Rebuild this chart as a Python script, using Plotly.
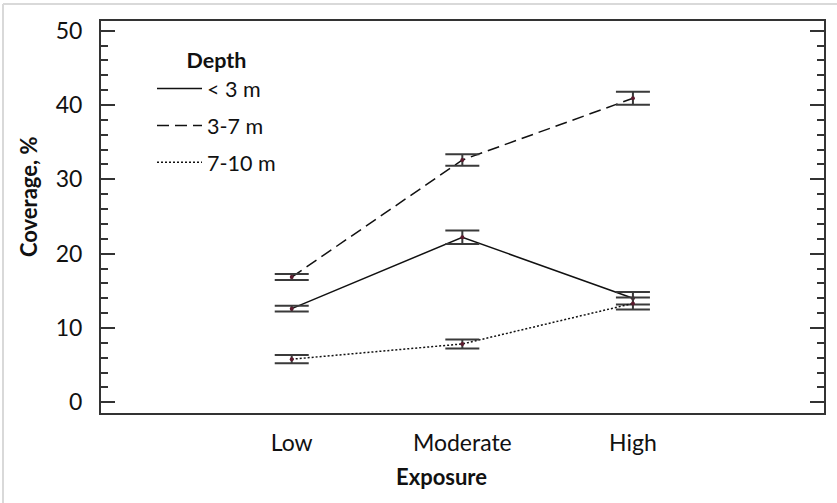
import plotly.graph_objects as go

exposure = ["Low", "Moderate", "High"]
depths = ["< 3 m", "3-7 m", "7-10 m"]
cov_lt3 = [12.6, 22.2, 14.0]
err_lt3 = [0.4, 0.9, 0.85]
cov_3_7 = [16.85, 32.6, 40.9]
err_3_7 = [0.4, 0.78, 0.88]
cov_7_10 = [5.8, 7.85, 13.3]
err_7_10 = [0.55, 0.6, 0.8]
y_ticks = [0, 10, 20, 30, 40, 50]

W, H = 837, 503
L, R, T, B = 101, 13, 21, 90
pw, ph = W - L - R, H - T - B
FONT = "Lato"

def px_x(p):
    return (p - L) / pw

def px_y(p):
    return (H - B - p) / ph

xpos = list(range(len(exposure)))
series = [
    (depths[0], cov_lt3, err_lt3, "solid"),
    (depths[1], cov_3_7, err_3_7, "12px,6px"),
    (depths[2], cov_7_10, err_7_10, "2px,2px"),
]

fig = go.Figure()
for name, vals, errs, dash in series:
    fig.add_trace(go.Scatter(
        x=xpos, y=vals, name=name, mode="lines",
        legendgroup=name,
        line=dict(color="#111111", width=1.5, dash=dash),
    ))
    fig.add_trace(go.Scatter(
        x=xpos, y=vals, name=name, mode="markers",
        legendgroup=name, showlegend=False,
        marker=dict(size=4, color="#5c1b2e"),
        error_y=dict(type="data", array=errs, visible=True, width=17,
                     thickness=2, color="#3a3a3a"),
    ))

fig.update_layout(
    width=W, height=H,
    margin=dict(l=L, r=R, t=T, b=B, autoexpand=False),
    paper_bgcolor="white", plot_bgcolor="white",
    font=dict(family=FONT, size=22, color="#111111"),
    showlegend=True,
    legend=dict(
        x=px_x(152), y=px_y(40), xanchor="left", yanchor="top",
        bgcolor="rgba(0,0,0,0)",
        title=dict(text="<b>Depth</b>", side="top center",
                   font=dict(family=FONT, size=21.5)),
        font=dict(family=FONT, size=21.5),
        tracegroupgap=6,
        itemwidth=45,
    ),
    xaxis=dict(
        range=[-1.118, 3.12], tickvals=xpos, ticktext=exposure,
        showline=True, linecolor="#333333", linewidth=2, mirror=True,
        ticks="", showgrid=False, zeroline=False,
        ticklabelstandoff=8,
        tickfont=dict(family=FONT, size=23),
    ),
    yaxis=dict(
        range=[-1.44, 51.3], tickvals=y_ticks,
        showline=True, linecolor="#333333", linewidth=2, mirror="ticks",
        ticks="inside", ticklen=14, tickwidth=2, tickcolor="#333333",
        minor=dict(dtick=2, ticks="inside", ticklen=7, tickwidth=2,
                   tickcolor="#333333", showgrid=False),
        showgrid=False, zeroline=False,
        ticklabelstandoff=12,
        tickfont=dict(family=FONT, size=23),
    ),
    annotations=[
        dict(text="<b>Exposure</b>", xref="paper", yref="paper",
             x=px_x(441.7), y=px_y(476), xanchor="center", yanchor="middle",
             showarrow=False, font=dict(family=FONT, size=22)),
        dict(text="<b>Coverage, %</b>", xref="paper", yref="paper",
             x=px_x(28), y=px_y(197), xanchor="center", yanchor="middle",
             textangle=-90, showarrow=False, font=dict(family=FONT, size=22)),
    ],
    shapes=[
        dict(type="line", xref="paper", yref="paper",
             x0=px_x(3), x1=px_x(W), y0=px_y(4), y1=px_y(4),
             line=dict(color="#d9d9d9", width=2)),
        dict(type="line", xref="paper", yref="paper",
             x0=px_x(3), x1=px_x(3), y0=px_y(4), y1=px_y(H),
             line=dict(color="#d9d9d9", width=2)),
    ],
)

fig.write_html("out.html",
               config={"displayModeBar": False},
               post_script="document.body.style.margin='0px';")
